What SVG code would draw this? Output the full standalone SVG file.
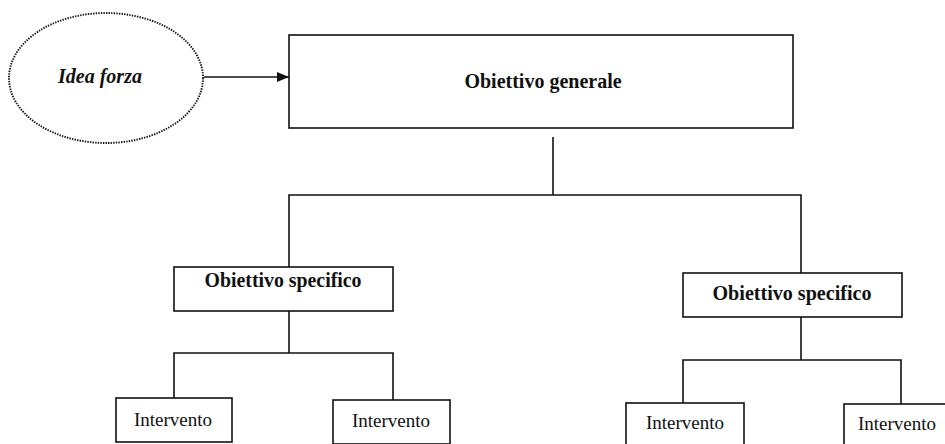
<svg xmlns="http://www.w3.org/2000/svg" width="945" height="444" viewBox="0 0 945 444">
  <style>
    .box { fill: #fff; stroke: #111; stroke-width: 1.6; }
    .link { fill: none; stroke: #111; stroke-width: 1.6; }
    .bold { font-family: "Liberation Serif", "Times New Roman", serif; font-weight: bold; font-size: 20px; fill: #111; text-anchor: middle; }
    .plain { font-family: "Liberation Serif", "Times New Roman", serif; font-size: 19px; fill: #111; text-anchor: middle; }
  </style>
  <defs>
    <marker id="arrow" markerWidth="12" markerHeight="10" refX="12" refY="5" orient="auto" markerUnits="userSpaceOnUse">
      <path d="M0,0 L12,5 L0,10 Z" fill="#111"/>
    </marker>
  </defs>
  <rect width="945" height="444" fill="#fff"/>

  <!-- connectors -->
  <g id="connectors">
    <line class="link" x1="204" y1="77" x2="289" y2="77" marker-end="url(#arrow)"/>
    <line class="link" x1="553" y1="137" x2="553" y2="195"/>
    <polyline class="link" points="289,267 289,195 801,195 801,273"/>
    <line class="link" x1="289" y1="311" x2="289" y2="353"/>
    <polyline class="link" points="174,398 174,353 393,353 393,400"/>
    <line class="link" x1="801" y1="317" x2="801" y2="360"/>
    <polyline class="link" points="683,403 683,360 901,360 901,404"/>
  </g>

  <!-- idea forza -->
  <g id="idea-forza">
    <ellipse cx="106" cy="78" rx="97" ry="65" fill="#fff" stroke="#111" stroke-width="1.9" stroke-dasharray="1.4 1.2"/>
    <text x="100" y="83" class="bold" font-style="italic">Idea forza</text>
  </g>

  <!-- obiettivo generale -->
  <g id="obiettivo-generale">
    <rect class="box" x="289" y="35" width="504" height="93"/>
    <text x="543" y="88" class="bold">Obiettivo generale</text>
  </g>

  <!-- obiettivi specifici -->
  <g id="obiettivo-specifico-1">
    <rect class="box" x="174" y="267" width="219" height="44"/>
    <text x="283" y="287" class="bold" textLength="157" lengthAdjust="spacingAndGlyphs">Obiettivo specifico</text>
  </g>
  <g id="obiettivo-specifico-2">
    <rect class="box" x="683" y="273" width="219" height="44"/>
    <text x="792" y="300" class="bold" textLength="159" lengthAdjust="spacingAndGlyphs">Obiettivo specifico</text>
  </g>

  <!-- interventi -->
  <g id="intervento-1">
    <rect class="box" x="116" y="398" width="116" height="44"/>
    <text x="173" y="426" class="plain">Intervento</text>
  </g>
  <g id="intervento-2">
    <rect class="box" x="333" y="400" width="117" height="44"/>
    <text x="391" y="427" class="plain">Intervento</text>
  </g>
  <g id="intervento-3">
    <rect class="box" x="626" y="403" width="118" height="44"/>
    <text x="685" y="429" class="plain">Intervento</text>
  </g>
  <g id="intervento-4">
    <rect class="box" x="844" y="404" width="110" height="44"/>
    <text x="897" y="430" class="plain">Intervento</text>
  </g>
</svg>
